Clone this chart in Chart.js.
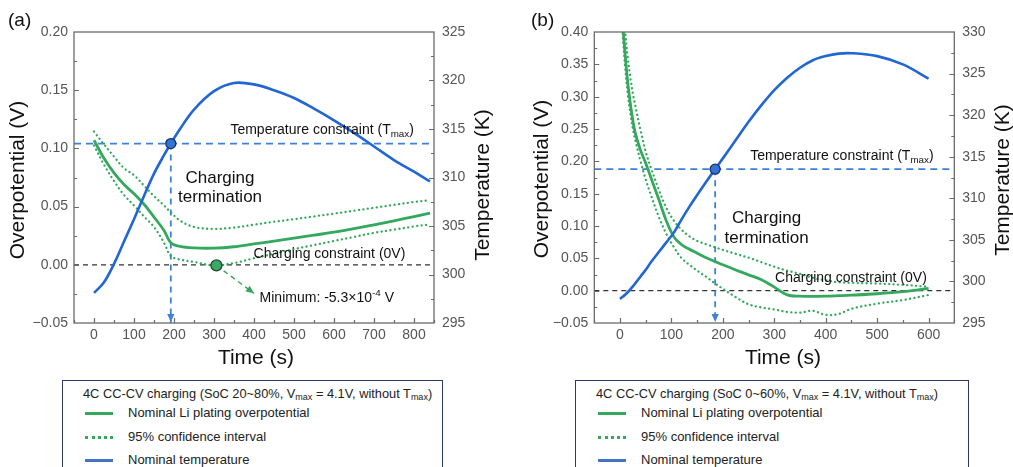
<!DOCTYPE html>
<html>
<head>
<meta charset="utf-8">
<script src="https://cdn.jsdelivr.net/npm/chart.js@4.4.0/dist/chart.umd.min.js"></script>
<style>
  body { margin: 0; background: #fff; width: 1013px; height: 467px; overflow: hidden; position: relative;
         font-family: "Liberation Sans", Arial, sans-serif; color: #111; }
  canvas { position: absolute; top: 0; }
  #chartA { left: 0; }
  #chartB { left: 500px; }
  .tag { position: absolute; top: 9px; font-size: 19px; }
  .legend { position: absolute; top: 380px; height: 110px; border: 1.5px solid #2d3a66; box-sizing: border-box;
            font-size: 12.8px; color: #222; }
  .legend .ttl { position: absolute; left: 20px; top: 5px; white-space: nowrap; }
  .legend .row { position: absolute; left: 22px; white-space: nowrap; height: 16px; }
  .legend .smp { position: absolute; left: 0; top: 7px; width: 28px; height: 0; }
  .legend .lbl { position: absolute; left: 43px; top: 0; font-size: 13px; }
  sub { font-size: 9px; vertical-align: -2px; }
</style>
</head>
<body>
<canvas id="chartA" width="500" height="375"></canvas>
<canvas id="chartB" width="513" height="375"></canvas>
<div class="tag" style="left:8px">(a)</div>
<div class="tag" style="left:531px">(b)</div>

<div class="legend" style="left:62px; width:381px">
  <div class="ttl">4C CC-CV charging (SoC 20~80%, V<sub>max</sub> = 4.1V, without T<sub>max</sub>)</div>
  <div class="row" style="top:24px"><div class="smp" style="border-top:3px solid #34a85c"></div><div class="lbl">Nominal Li plating overpotential</div></div>
  <div class="row" style="top:48px"><div class="smp" style="border-top:3px dotted #34a85c"></div><div class="lbl">95% confidence interval</div></div>
  <div class="row" style="top:71px"><div class="smp" style="border-top:3px solid #4472c4"></div><div class="lbl">Nominal temperature</div></div>
</div>
<div class="legend" style="left:575px; width:394px">
  <div class="ttl">4C CC-CV charging (SoC 0~60%, V<sub>max</sub> = 4.1V, without T<sub>max</sub>)</div>
  <div class="row" style="top:24px"><div class="smp" style="border-top:3px solid #34a85c"></div><div class="lbl">Nominal Li plating overpotential</div></div>
  <div class="row" style="top:48px"><div class="smp" style="border-top:3px dotted #34a85c"></div><div class="lbl">95% confidence interval</div></div>
  <div class="row" style="top:71px"><div class="smp" style="border-top:3px solid #4472c4"></div><div class="lbl">Nominal temperature</div></div>
</div>

<script>
// ---- panel (a): SoC 20~80% ----
const timeA = [0, 25, 50, 75, 100, 125, 150, 175, 192, 215, 250, 300, 350, 400, 450, 500, 550, 600, 650, 700, 750, 800, 840];
const nominalA = [0.107, 0.0915, 0.079, 0.069, 0.061, 0.052, 0.041, 0.0295, 0.019, 0.0158, 0.0145, 0.0143, 0.0155, 0.018, 0.0203, 0.0229, 0.0255, 0.028, 0.031, 0.0344, 0.0378, 0.0414, 0.0444];
const upperA = [0.1145, 0.1035, 0.093, 0.083, 0.077, 0.068, 0.059, 0.051, 0.045, 0.038, 0.0325, 0.0308, 0.032, 0.0345, 0.037, 0.0392, 0.0416, 0.044, 0.0465, 0.049, 0.0515, 0.054, 0.0555];
const lowerA = [0.1025, 0.086, 0.072, 0.060, 0.051, 0.0415, 0.0325, 0.019, 0.0075, 0.0045, 0.0025, -0.0005, 0.0015, 0.0057, 0.0095, 0.0135, 0.017, 0.0205, 0.024, 0.0275, 0.0302, 0.033, 0.0348];
const tempA = [298.1, 299.2, 301.1, 303.4, 305.7, 308.1, 310.4, 312.3, 313.5, 315.0, 317.0, 318.9, 319.75, 319.6, 319.0, 318.2, 317.1, 315.9, 314.6, 313.2, 311.8, 310.6, 309.6];
const stopTimeA = 192;          // charging termination
const minTimeA = 306;           // minimum of lower bound
const minValueA = -0.00053;
const arrowEndA = [400, -0.0245];

// ---- panel (b): SoC 0~60% ----
const timeB = [0, 5, 10, 15, 20, 25, 30, 40, 50, 60, 75, 90, 105, 120, 135, 150, 170, 185, 200, 225, 250, 275, 300, 325, 350, 375, 400, 425, 450, 500, 550, 600];
const nominalB = [0.47, 0.415, 0.365, 0.322, 0.290, 0.263, 0.243, 0.217, 0.197, 0.175, 0.142, 0.108, 0.083, 0.071, 0.064, 0.058, 0.050, 0.045, 0.040, 0.032, 0.0245, 0.017, 0.0055, -0.0065, -0.0085, -0.0088, -0.0085, -0.0078, -0.007, -0.0048, -0.0015, 0.0036];
const upperB = [0.50, 0.44, 0.40, 0.36, 0.33, 0.305, 0.285, 0.248, 0.215, 0.190, 0.157, 0.128, 0.108, 0.094, 0.084, 0.077, 0.071, 0.067, 0.063, 0.057, 0.051, 0.044, 0.037, 0.031, 0.026, 0.020, 0.016, 0.013, 0.012, 0.011, 0.009, 0.006];
const lowerB = [0.46, 0.40, 0.345, 0.305, 0.275, 0.25, 0.232, 0.200, 0.172, 0.148, 0.115, 0.088, 0.067, 0.050, 0.040, 0.031, 0.020, 0.011, 0.003, -0.010, -0.021, -0.026, -0.029, -0.033, -0.034, -0.031, -0.0375, -0.036, -0.028, -0.020, -0.0145, -0.0066];
const tempB = [297.9, 298.15, 298.4, 298.7, 299.05, 299.4, 299.8, 300.6, 301.4, 302.3, 303.5, 304.7, 305.9, 307.5, 309.0, 310.4, 312.2, 313.5, 314.8, 317.0, 319.2, 321.2, 323.0, 324.5, 325.7, 326.6, 327.1, 327.4, 327.45, 327.1, 326.1, 324.4];
const stopTimeB = 185;

const tempMax = 313.5;   // temperature constraint (K)

// tick labels
const xTicksA = [0, 100, 200, 300, 400, 500, 600, 700, 800];
const xTicksB = [0, 100, 200, 300, 400, 500, 600];
const yTicksA = [-0.05, 0, 0.05, 0.10, 0.15, 0.20];
const yTicksB = [-0.05, 0, 0.05, 0.10, 0.15, 0.20, 0.25, 0.30, 0.35, 0.40];
const tTicksA = [295, 300, 305, 310, 315, 320, 325];
const tTicksB = [295, 300, 305, 310, 315, 320, 325, 330];

const GREEN = '#34a85c';
const BLUE = '#2166d4';
const DASHBLUE = '#3b82d8';

function pts(xs, ys) { return xs.map((x, i) => ({x: x, y: ys[i]})); }

// draw text with sub/superscript pieces
function richText(ctx, parts, x, y, size, align) {
  let w = 0;
  parts.forEach(p => {
    ctx.font = (p.sub || p.sup ? size * 0.7 : size) + 'px "Liberation Sans", Arial, sans-serif';
    w += ctx.measureText(p.t).width;
  });
  let cx = align === 'center' ? x - w / 2 : x;
  ctx.textAlign = 'left';
  ctx.textBaseline = 'middle';
  parts.forEach(p => {
    const s = p.sub || p.sup ? size * 0.7 : size;
    ctx.font = s + 'px "Liberation Sans", Arial, sans-serif';
    const dy = p.sub ? size * 0.3 : (p.sup ? -size * 0.35 : 0);
    ctx.fillText(p.t, cx, y + dy);
    cx += ctx.measureText(p.t).width;
  });
}

function arrowHead(ctx, x, y, ang, len, color) {
  ctx.save();
  ctx.translate(x, y);
  ctx.rotate(ang);
  ctx.fillStyle = color;
  ctx.beginPath();
  ctx.moveTo(0, 0);
  ctx.lineTo(-len, -len * 0.45);
  ctx.lineTo(-len, len * 0.45);
  ctx.closePath();
  ctx.fill();
  ctx.restore();
}

function halfSteps(ticks) {
  const step = ticks[1] - ticks[0];
  const out = [ticks[0] - step / 2];
  ticks.forEach(v => out.push(v + step / 2));
  return out;
}

const decor = {
  id: 'decor',
  afterDatasetsDraw(chart, args, o) {
    const {ctx, chartArea: a} = chart;
    const sx = chart.scales.x, sy = chart.scales.y, st = chart.scales.y2;
    ctx.save();

    // inside tick marks
    ctx.strokeStyle = '#6b6b6b';
    ctx.lineWidth = 1.2;
    ctx.beginPath();
    const tickX = (vals, len) => vals.forEach(v => {
      if (v < sx.min || v > sx.max) return;
      const p = Math.round(sx.getPixelForValue(v)) + 0.5;
      ctx.moveTo(p, a.bottom); ctx.lineTo(p, a.bottom - len);
    });
    const tickL = (vals, len) => vals.forEach(v => {
      if (v <= sy.min || v >= sy.max) return;
      const p = Math.round(sy.getPixelForValue(v)) + 0.5;
      ctx.moveTo(a.left, p); ctx.lineTo(a.left + len, p);
    });
    const tickR = (vals, len) => vals.forEach(v => {
      if (v <= st.min || v >= st.max) return;
      const p = Math.round(st.getPixelForValue(v)) + 0.5;
      ctx.moveTo(a.right, p); ctx.lineTo(a.right - len, p);
    });
    tickX(o.xTicks, 5); tickX(halfSteps(o.xTicks), 3);
    tickL(o.yTicks, 5); tickL(halfSteps(o.yTicks), 3);
    tickR(o.tTicks, 5); tickR(halfSteps(o.tTicks), 3);
    ctx.stroke();

    // frame
    ctx.lineWidth = 1.3;
    ctx.strokeRect(a.left, a.top, a.right - a.left, a.bottom - a.top);

    // arrow at bottom of termination line
    const tx = sx.getPixelForValue(o.stopTime);
    arrowHead(ctx, tx, a.bottom - 1, Math.PI / 2, 8, DASHBLUE);

    // arrow to the minimum note
    if (o.minArrow) {
      const x0 = sx.getPixelForValue(o.minArrow[0][0]), y0 = sy.getPixelForValue(o.minArrow[0][1]);
      const x1 = sx.getPixelForValue(o.minArrow[1][0]), y1 = sy.getPixelForValue(o.minArrow[1][1]);
      arrowHead(ctx, x1, y1, Math.atan2(y1 - y0, x1 - x0), 8, GREEN);
    }

    // annotations
    ctx.fillStyle = '#111';
    o.notes.forEach(n => {
      richText(ctx, n.parts, sx.getPixelForValue(n.x), sy.getPixelForValue(n.y), n.size, n.align);
    });

    // axis titles
    ctx.font = '21px "Liberation Sans", Arial, sans-serif';
    ctx.textAlign = 'center';
    ctx.textBaseline = 'middle';
    ctx.fillText('Time (s)', o.xTitle[0], o.xTitle[1]);
    [[o.leftTitle, 'Overpotential (V)'], [o.rightTitle, 'Temperature (K)']].forEach(([p, txt]) => {
      ctx.save();
      ctx.translate(p[0], p[1]);
      ctx.rotate(-Math.PI / 2);
      ctx.fillText(txt, 0, 0);
      ctx.restore();
    });
    ctx.restore();
  }
};

function fmtV(v) { return (v < 0 ? '\u2212' : '') + Math.abs(v).toFixed(2); }

function makeChart(id, p) {
  const tickFont = {family: '"Liberation Sans", Arial, sans-serif', size: 14};
  const curve = {pointRadius: 0, tension: 0.35, yAxisID: 'y'};
  const datasets = [
    // markers
    {data: [{x: p.stopTime, y: tempMax}], yAxisID: 'y2', showLine: false, pointRadius: 5,
     pointBackgroundColor: '#2f74d6', pointBorderColor: '#1b2f5e', pointBorderWidth: 1.3},
  ];
  if (p.minPoint) {
    datasets.push({data: [p.minPoint], yAxisID: 'y', showLine: false, pointRadius: 5.5,
      pointBackgroundColor: '#3da865', pointBorderColor: '#1e4a2c', pointBorderWidth: 1.3});
    datasets.push({data: [p.minPoint, {x: p.minArrow[1][0], y: p.minArrow[1][1]}], yAxisID: 'y',
      borderColor: GREEN, borderWidth: 1.5, borderDash: [5, 4], pointRadius: 0});
  }
  datasets.push(
    Object.assign({}, curve, {data: pts(p.time, p.temp), yAxisID: 'y2', borderColor: BLUE, borderWidth: 2.6}),
    Object.assign({}, curve, {data: pts(p.time, p.nominal), borderColor: GREEN, borderWidth: 2.8}),
    Object.assign({}, curve, {data: pts(p.time, p.upper), borderColor: GREEN, borderWidth: 2.3,
      borderDash: [0.1, 4.4], borderCapStyle: 'round'}),
    Object.assign({}, curve, {data: pts(p.time, p.lower), borderColor: GREEN, borderWidth: 2.3,
      borderDash: [0.1, 4.4], borderCapStyle: 'round'}),
    // temperature constraint
    {data: [{x: p.xMin, y: tempMax}, {x: p.xMax, y: tempMax}], yAxisID: 'y2', borderColor: DASHBLUE,
     borderWidth: 1.8, borderDash: [7, 5], pointRadius: 0},
    // charging termination
    {data: [{x: p.stopTime, y: tempMax}, {x: p.stopTime, y: p.tMin}], yAxisID: 'y2', borderColor: DASHBLUE,
     borderWidth: 1.8, borderDash: [6, 5], pointRadius: 0},
    // 0 V constraint
    {data: [{x: p.xMin, y: 0}, {x: p.xMax, y: 0}], yAxisID: 'y', borderColor: '#333',
     borderWidth: 1.3, borderDash: [5, 4], pointRadius: 0}
  );

  return new Chart(document.getElementById(id), {
    type: 'line',
    data: {datasets: datasets},
    options: {
      responsive: false,
      animation: false,
      layout: {padding: {top: 32}},
      plugins: {
        legend: {display: false},
        tooltip: {enabled: false},
        decor: p.decor
      },
      scales: {
        x: {
          type: 'linear', min: p.xMin, max: p.xMax,
          afterBuildTicks: s => { s.ticks = p.xTicks.map(v => ({value: v})); },
          afterFit: s => { s.height = 52; },
          grid: {display: false, drawTicks: false}, border: {display: false},
          ticks: {font: tickFont, color: '#555', padding: 4, maxRotation: 0, autoSkip: false}
        },
        y: {
          position: 'left', min: p.yMin, max: p.yMax,
          afterBuildTicks: s => { s.ticks = p.yTicks.map(v => ({value: v})); },
          afterFit: s => { s.width = p.leftW; },
          grid: {display: false, drawTicks: false}, border: {display: false},
          ticks: {font: tickFont, color: '#555', padding: 6, callback: v => fmtV(v)}
        },
        y2: {
          position: 'right', min: p.tMin, max: p.tMax,
          afterBuildTicks: s => { s.ticks = p.tTicks.map(v => ({value: v})); },
          afterFit: s => { s.width = p.rightW; },
          grid: {display: false, drawTicks: false}, border: {display: false},
          ticks: {font: tickFont, color: '#555', padding: 8}
        }
      }
    },
    plugins: [decor]
  });
}

makeChart('chartA', {
  time: timeA, nominal: nominalA, upper: upperA, lower: lowerA, temp: tempA,
  xMin: -50, xMax: 850, yMin: -0.05, yMax: 0.20, tMin: 295, tMax: 325,
  xTicks: xTicksA, yTicks: yTicksA, tTicks: tTicksA,
  leftW: 74, rightW: 66, stopTime: stopTimeA,
  minPoint: {x: minTimeA, y: minValueA},
  minArrow: [[minTimeA, minValueA], arrowEndA],
  decor: {
    xTicks: xTicksA, yTicks: yTicksA, tTicks: tTicksA, stopTime: stopTimeA,
    minArrow: [[minTimeA, minValueA], arrowEndA],
    xTitle: [256, 358], leftTitle: [18, 180], rightTitle: [483, 185],
    notes: [
      {parts: [{t: 'Temperature constraint (T'}, {t: 'max', sub: true}, {t: ')'}], x: 341, y: 0.116, size: 14, align: 'left'},
      {parts: [{t: 'Charging'}], x: 315, y: 0.0747, size: 17, align: 'center'},
      {parts: [{t: 'termination'}], x: 315, y: 0.0576, size: 17, align: 'center'},
      {parts: [{t: 'Charging constraint (0V)'}], x: 399, y: 0.0095, size: 14, align: 'left'},
      {parts: [{t: 'Minimum: -5.3\u00d710'}, {t: '-4', sup: true}, {t: ' V'}], x: 414, y: -0.0284, size: 14, align: 'left'}
    ]
  }
});

makeChart('chartB', {
  time: timeB, nominal: nominalB, upper: upperB, lower: lowerB, temp: tempB,
  xMin: -50, xMax: 650, yMin: -0.05, yMax: 0.40, tMin: 295, tMax: 330,
  xTicks: xTicksB, yTicks: yTicksB, tTicks: tTicksB,
  leftW: 94.3, rightW: 58.7, stopTime: stopTimeB,
  decor: {
    xTicks: xTicksB, yTicks: yTicksB, tTicks: tTicksB, stopTime: stopTimeB,
    xTitle: [283, 358], leftTitle: [42, 179], rightTitle: [503, 180],
    notes: [
      {parts: [{t: 'Temperature constraint (T'}, {t: 'max', sub: true}, {t: ')'}], x: 253, y: 0.208, size: 14, align: 'left'},
      {parts: [{t: 'Charging'}], x: 285, y: 0.112, size: 17, align: 'center'},
      {parts: [{t: 'termination'}], x: 285, y: 0.081, size: 17, align: 'center'},
      {parts: [{t: 'Charging constraint (0V)'}], x: 301.5, y: 0.019, size: 14, align: 'left'}
    ]
  }
});
</script>
</body>
</html>
